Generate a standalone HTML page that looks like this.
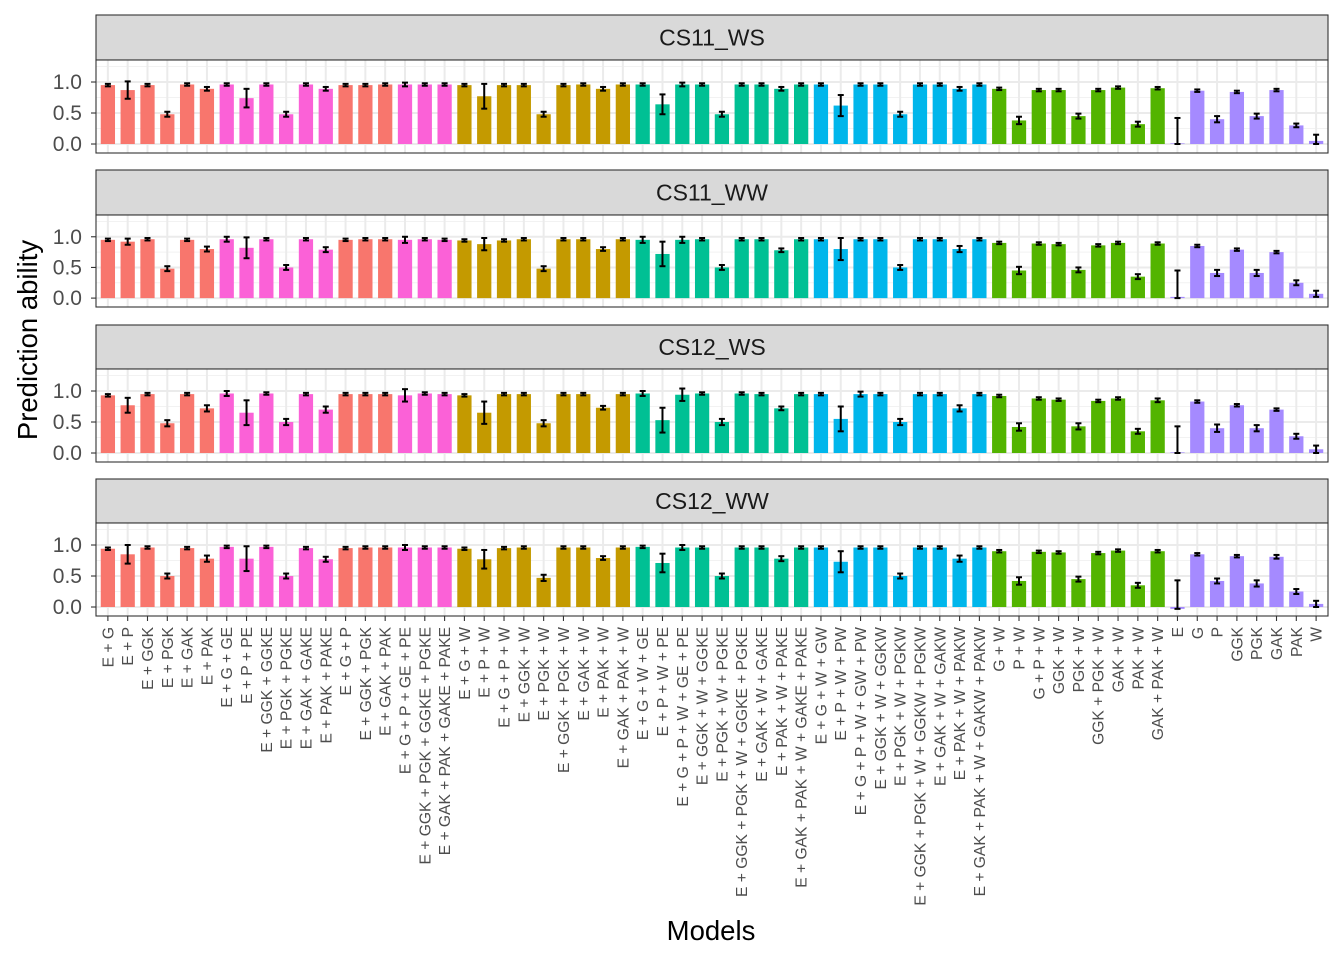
<!DOCTYPE html>
<html><head><meta charset="utf-8"><style>
body{margin:0;background:#fff;}
svg{display:block;font-family:"Liberation Sans",Arial,sans-serif;}
</style></head><body>
<svg id="chart" width="1344" height="960" viewBox="0 0 1344 960" xmlns="http://www.w3.org/2000/svg">
<rect x="0" y="0" width="1344" height="960" fill="#fff"/>
</svg>
<script>
const categories = ["E + G","E + P","E + GGK","E + PGK","E + GAK","E + PAK","E + G + GE","E + P + PE","E + GGK + GGKE","E + PGK + PGKE","E + GAK + GAKE","E + PAK + PAKE","E + G + P","E + GGK + PGK","E + GAK + PAK","E + G + P + GE + PE","E + GGK + PGK + GGKE + PGKE","E + GAK + PAK + GAKE + PAKE","E + G + W","E + P + W","E + G + P + W","E + GGK + W","E + PGK + W","E + GGK + PGK + W","E + GAK + W","E + PAK + W","E + GAK + PAK + W","E + G + W + GE","E + P + W + PE","E + G + P + W + GE + PE","E + GGK + W + GGKE","E + PGK + W + PGKE","E + GGK + PGK + W + GGKE + PGKE","E + GAK + W + GAKE","E + PAK + W + PAKE","E + GAK + PAK + W + GAKE + PAKE","E + G + W + GW","E + P + W + PW","E + G + P + W + GW + PW","E + GGK + W + GGKW","E + PGK + W + PGKW","E + GGK + PGK + W + GGKW + PGKW","E + GAK + W + GAKW","E + PAK + W + PAKW","E + GAK + PAK + W + GAKW + PAKW","G + W","P + W","G + P + W","GGK + W","PGK + W","GGK + PGK + W","GAK + W","PAK + W","GAK + PAK + W","E","G","P","GGK","PGK","GAK","PAK","W"];
const groups = [0,0,0,0,0,0,1,1,1,1,1,1,0,0,0,1,1,1,2,2,2,2,2,2,2,2,2,3,3,3,3,3,3,3,3,3,4,4,4,4,4,4,4,4,4,5,5,5,5,5,5,5,5,5,6,6,6,6,6,6,6,6];
const panelNames = ["CS11_WS","CS11_WW","CS12_WS","CS12_WW"];
const valsCS11WS = [0.95,0.87,0.95,0.48,0.96,0.89,0.96,0.74,0.96,0.48,0.96,0.89,0.95,0.95,0.96,0.96,0.96,0.96,0.95,0.77,0.95,0.95,0.48,0.95,0.96,0.89,0.96,0.96,0.64,0.96,0.96,0.48,0.96,0.96,0.89,0.96,0.96,0.62,0.96,0.96,0.48,0.96,0.96,0.89,0.96,0.89,0.38,0.87,0.87,0.45,0.87,0.91,0.32,0.90,0.01,0.86,0.40,0.84,0.45,0.87,0.30,0.05];
const errCS11WS = [0.02,0.14,0.02,0.04,0.02,0.03,0.02,0.15,0.02,0.04,0.02,0.03,0.02,0.02,0.02,0.03,0.02,0.02,0.02,0.2,0.02,0.02,0.04,0.02,0.02,0.03,0.02,0.02,0.16,0.03,0.02,0.04,0.02,0.02,0.03,0.02,0.02,0.17,0.02,0.02,0.04,0.02,0.02,0.03,0.02,0.02,0.06,0.02,0.02,0.04,0.02,0.02,0.04,0.02,0.41,0.02,0.05,0.02,0.04,0.02,0.03,0.1];
const valsCS11WW = [0.95,0.92,0.96,0.48,0.95,0.80,0.96,0.82,0.96,0.50,0.96,0.79,0.95,0.96,0.96,0.95,0.96,0.95,0.94,0.88,0.94,0.96,0.48,0.96,0.96,0.80,0.96,0.95,0.72,0.95,0.96,0.50,0.96,0.96,0.78,0.96,0.96,0.80,0.96,0.96,0.50,0.96,0.96,0.80,0.96,0.90,0.45,0.89,0.88,0.46,0.86,0.90,0.35,0.89,0.02,0.85,0.41,0.79,0.41,0.75,0.25,0.07];
const errCS11WW = [0.02,0.05,0.02,0.04,0.02,0.04,0.04,0.17,0.02,0.04,0.02,0.04,0.02,0.02,0.02,0.05,0.02,0.02,0.02,0.1,0.02,0.02,0.04,0.02,0.02,0.03,0.02,0.05,0.2,0.05,0.02,0.04,0.02,0.02,0.03,0.02,0.02,0.18,0.02,0.02,0.04,0.02,0.02,0.05,0.02,0.02,0.06,0.02,0.02,0.04,0.02,0.02,0.04,0.02,0.43,0.02,0.05,0.02,0.05,0.02,0.04,0.05];
const valsCS12WS = [0.93,0.77,0.95,0.48,0.95,0.72,0.96,0.65,0.96,0.50,0.95,0.70,0.95,0.95,0.95,0.93,0.96,0.95,0.93,0.65,0.95,0.95,0.48,0.95,0.95,0.73,0.95,0.96,0.53,0.94,0.96,0.50,0.96,0.95,0.72,0.95,0.95,0.55,0.95,0.95,0.50,0.95,0.95,0.72,0.95,0.92,0.42,0.88,0.86,0.43,0.84,0.88,0.35,0.85,0.01,0.83,0.40,0.77,0.40,0.70,0.27,0.06];
const errCS12WS = [0.02,0.12,0.02,0.05,0.02,0.05,0.04,0.2,0.02,0.05,0.02,0.05,0.02,0.02,0.02,0.1,0.02,0.02,0.02,0.18,0.02,0.02,0.05,0.02,0.02,0.03,0.02,0.04,0.2,0.1,0.02,0.05,0.02,0.02,0.03,0.02,0.02,0.2,0.04,0.02,0.05,0.02,0.02,0.05,0.02,0.02,0.06,0.02,0.02,0.05,0.02,0.02,0.04,0.03,0.42,0.02,0.06,0.02,0.05,0.02,0.04,0.06];
const valsCS12WW = [0.94,0.85,0.96,0.50,0.95,0.78,0.97,0.78,0.97,0.50,0.95,0.77,0.95,0.96,0.96,0.96,0.96,0.96,0.94,0.77,0.95,0.96,0.47,0.96,0.96,0.79,0.96,0.97,0.71,0.96,0.96,0.50,0.96,0.96,0.78,0.96,0.96,0.73,0.96,0.96,0.50,0.96,0.96,0.78,0.96,0.90,0.42,0.89,0.88,0.45,0.87,0.91,0.35,0.90,-0.03,0.85,0.42,0.82,0.38,0.81,0.25,0.05];
const errCS12WW = [0.02,0.15,0.02,0.04,0.02,0.05,0.02,0.2,0.02,0.04,0.02,0.04,0.02,0.02,0.02,0.04,0.02,0.02,0.02,0.15,0.02,0.02,0.05,0.02,0.02,0.03,0.02,0.02,0.15,0.04,0.02,0.04,0.02,0.02,0.04,0.02,0.02,0.17,0.02,0.02,0.04,0.02,0.02,0.05,0.02,0.02,0.06,0.02,0.02,0.04,0.02,0.02,0.04,0.02,0.46,0.02,0.04,0.02,0.05,0.03,0.04,0.05];
const yTicks = [0, 0.5, 1.0];
const yTickLabels = ["0.0","0.5","1.0"];
const panelVals = [valsCS11WS, valsCS11WW, valsCS12WS, valsCS12WW];
const panelErrs = [errCS11WS, errCS11WW, errCS12WS, errCS12WW];

const palette = ["#F8766D","#FB61D7","#C49A00","#00C094","#00B6EB","#53B400","#A58AFF"];
const NS = "http://www.w3.org/2000/svg";
const svg = document.getElementById("chart");
function mk(tag, attrs, parent){const e=document.createElementNS(NS,tag);for(const k in attrs)e.setAttribute(k,attrs[k]);(parent||svg).appendChild(e);return e;}

const px0 = 96, px1 = 1328;
const n = categories.length;
const step = (px1-px0)/(n+0.2);
function xPos(i){return px0 + (0.6+i)*step;}
const strips = [[15,60,153],[170,215,307],[325,369,462],[479,523,616]];
const yMin=-0.145, yMax=1.355;

strips.forEach((s,p)=>{
  const [st, top, bot] = s;
  const yPos = v => bot - (v-yMin)/(yMax-yMin)*(bot-top);
  const g = mk("g",{});
  
  
  const strip = mk("rect",{x:px0,y:st,width:px1-px0,height:top-st,fill:"#d9d9d9",stroke:"#333","stroke-width":1.1},g);
  
  
  const stxt = mk("text",{x:(px0+px1)/2,y:(st+top)/2+8,"text-anchor":"middle","font-size":23,fill:"#1a1a1a"},g);
  stxt.textContent = panelNames[p];
  
  
  mk("rect",{x:px0,y:top,width:px1-px0,height:bot-top,fill:"#fff"},g);
  [0.25,0.75,-0.25,1.25].forEach(v=>{const y=yPos(v); if(y>top&&y<bot) mk("line",{x1:px0,x2:px1,y1:y,y2:y,stroke:"#f2f2f2","stroke-width":1},g);});
  yTicks.forEach(v=>mk("line",{x1:px0,x2:px1,y1:yPos(v),y2:yPos(v),stroke:"#ebebeb","stroke-width":2},g));
  for(let i=0;i<n;i++) mk("line",{x1:xPos(i),x2:xPos(i),y1:top,y2:bot,stroke:"#ebebeb","stroke-width":2},g);
  const vals = panelVals[p], errs = panelErrs[p];
  const bw = step*0.72;
  for(let i=0;i<n;i++){
    const v = vals[i];
    const y0 = yPos(0), y1 = yPos(v);
    const b = mk("rect",{x:xPos(i)-bw/2,y:Math.min(y0,y1),width:bw,height:Math.abs(y1-y0),fill:palette[groups[i]]},g);
    
    
    const lo = Math.max(Math.min(v,0), v-errs[i]), hi = v+errs[i];
    const eb = mk("g",{stroke:"#000","stroke-width":2},g);
    
    
    mk("line",{x1:xPos(i),x2:xPos(i),y1:yPos(lo),y2:yPos(hi)},eb);
    mk("line",{x1:xPos(i)-3,x2:xPos(i)+3,y1:yPos(lo),y2:yPos(lo)},eb);
    mk("line",{x1:xPos(i)-3,x2:xPos(i)+3,y1:yPos(hi),y2:yPos(hi)},eb);
  }
  mk("rect",{x:px0,y:top,width:px1-px0,height:bot-top,fill:"none",stroke:"#333","stroke-width":1.1},g);
  yTicks.forEach((v,k)=>{
    mk("line",{x1:91,x2:96,y1:yPos(v),y2:yPos(v),stroke:"#333","stroke-width":1.1},g);
    const t = mk("text",{x:82,y:yPos(v)+7,"text-anchor":"end","font-size":21,fill:"#4d4d4d"},g);
    t.textContent = yTickLabels[k];
    
    
  });
});
// x axis
for(let i=0;i<n;i++){
  mk("line",{x1:xPos(i),x2:xPos(i),y1:616,y2:621,stroke:"#333","stroke-width":1.1});
  const t = mk("text",{transform:`translate(${xPos(i)+5.5},627) rotate(-90)`,"text-anchor":"end","font-size":15.6,fill:"#4d4d4d"});
  t.textContent = categories[i];
  
  
}
const xt = mk("text",{x:711,y:940,"text-anchor":"middle","font-size":27.5,fill:"#000"});
xt.textContent = "Models";


const yt = mk("text",{transform:"translate(37,340) rotate(-90)","text-anchor":"middle","font-size":27.5,fill:"#000"});
yt.textContent = "Prediction ability";


</script>
</body></html>
